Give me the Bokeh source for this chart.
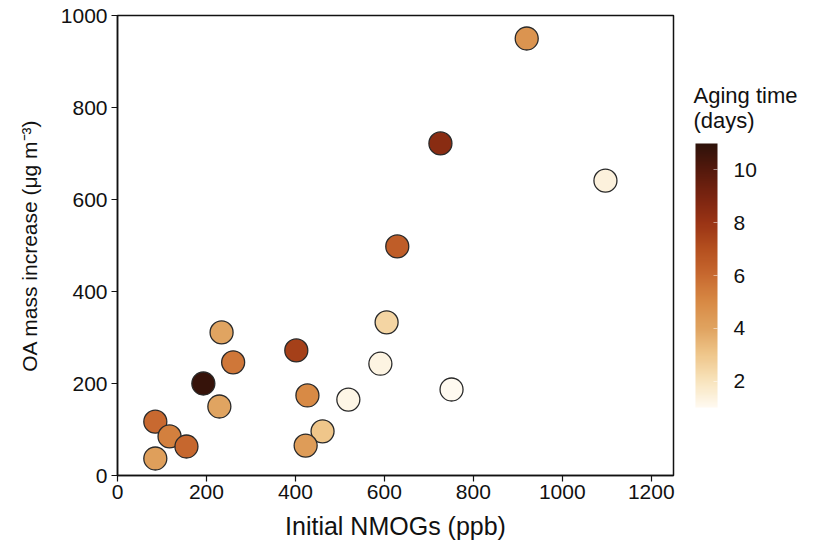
import numpy as np
from bokeh.plotting import figure
from bokeh.models import (ColumnDataSource, LinearColorMapper, ColorBar,
                          FixedTicker, Range1d)
from bokeh.embed import file_html
from bokeh.resources import INLINE

# ---- data ----
nmog_ppb = [920, 726, 1097, 629, 605, 591, 519, 751, 234, 260,
            193, 229, 85, 117, 155, 85, 402, 427, 461, 423]
oa_increase = [950, 722, 641, 498, 333, 243, 165, 187, 311, 246,
               200, 150, 117, 85, 63, 37, 272, 174, 96, 65]
aging_days = [4.6, 8.5, 1.4, 6.5, 2.5, 1.3, 1.2, 1.0, 4.0, 5.6,
              10.8, 4.0, 6.0, 5.3, 6.1, 4.2, 7.6, 5.0, 3.0, 4.3]
x_ticks = [0, 200, 400, 600, 800, 1000, 1200]
y_ticks = [0, 200, 400, 600, 800, 1000]
cbar_ticks = [2, 4, 6, 8, 10]
cbar_title = ["Aging time", "(days)"]

# ---- colour palette (cream -> orange -> dark brown) ----
anchor_vals = [1, 2, 3, 4, 5, 6, 7, 8, 9, 10, 11]
anchor_cols = ["#fffaf0", "#f8e4bc", "#efc68a", "#e0a360", "#d88a45",
               "#c86a30", "#b5501f", "#9a3415", "#7a2410", "#55190c", "#2e120a"]

def hex2rgb(h):
    h = h.lstrip("#")
    return [int(h[i:i + 2], 16) for i in (0, 2, 4)]

rgb = np.array([hex2rgb(c) for c in anchor_cols], dtype=float)
grid = np.linspace(1, 11, 256)
palette = []
for g in grid:
    r = np.interp(g, anchor_vals, rgb[:, 0])
    gg = np.interp(g, anchor_vals, rgb[:, 1])
    b = np.interp(g, anchor_vals, rgb[:, 2])
    palette.append("#%02x%02x%02x" % (int(round(r)), int(round(gg)), int(round(b))))

mapper = LinearColorMapper(palette=palette, low=1, high=11)

FONT = "Liberation Sans"

p = figure(width=817, height=542, output_backend="svg", toolbar_location=None,
           x_range=Range1d(0, 1250), y_range=Range1d(0, 1000),
           min_border_left=117, min_border_right=144,
           min_border_top=15, min_border_bottom=67)

src = ColumnDataSource(dict(x=nmog_ppb, y=oa_increase, a=aging_days))
p.scatter("x", "y", source=src, size=23,
          fill_color={"field": "a", "transform": mapper},
          line_color="#2a2a2a", line_width=1.3)

p.xgrid.visible = False
p.ygrid.visible = False
p.outline_line_color = "#111111"
p.outline_line_width = 1.5
p.background_fill_color = "white"
p.border_fill_color = "white"

for ax in (p.xaxis[0], p.yaxis[0]):
    ax.axis_line_color = "#111111"
    ax.axis_line_width = 1.5
    ax.major_tick_line_color = "#111111"
    ax.major_tick_line_width = 1.2
    ax.major_tick_out = 6
    ax.major_tick_in = 0
    ax.minor_tick_line_color = None
    ax.major_label_text_font = FONT
    ax.major_label_text_font_size = "21px"
    ax.major_label_text_color = "#111111"
    ax.axis_label_text_font = FONT
    ax.axis_label_text_font_style = "normal"
    ax.axis_label_text_color = "#111111"

p.xaxis.axis_label_text_font_size = "25px"
p.yaxis.axis_label_text_font_size = "21px"
p.xaxis.ticker = FixedTicker(ticks=x_ticks)
p.yaxis.ticker = FixedTicker(ticks=y_ticks)
p.xaxis.axis_label = "Initial NMOGs (ppb)"
p.yaxis.axis_label = "OA mass increase (μg m⁻³)"
p.xaxis.major_label_standoff = 3
p.yaxis.major_label_standoff = 4
p.xaxis.axis_label_standoff = 10
p.yaxis.axis_label_standoff = 17

cb = ColorBar(color_mapper=mapper, width=22, height=264,
              ticker=FixedTicker(ticks=cbar_ticks),
              major_label_text_font=FONT, major_label_text_font_size="21px",
              major_label_text_color="#111111",
              major_tick_line_color="white", major_tick_line_alpha=0.5,
              major_tick_out=0, major_tick_in=4,
              bar_line_color=None, label_standoff=16,
              padding=0, margin=0, location=(578, 68),
              background_fill_color=None, border_line_color=None)
p.add_layout(cb, "center")

# colour-bar title: two horizontal title-only bars (bar itself invisible)
for i, t in enumerate(cbar_title):
    tb = ColorBar(color_mapper=mapper, orientation="horizontal",
                  width=110, height=1, scale_alpha=0,
                  ticker=FixedTicker(ticks=[]),
                  major_label_text_alpha=0, major_tick_line_color=None,
                  minor_tick_line_color=None, bar_line_color=None,
                  title=t, title_text_font=FONT, title_text_font_size="22px",
                  title_text_font_style="normal", title_text_color="#111111",
                  title_standoff=0, padding=0, margin=0,
                  location=(576, 367 - 25 * i),
                  background_fill_color=None, border_line_color=None)
    p.add_layout(tb, "center")

open("out.html", "w").write(file_html(p, INLINE))
